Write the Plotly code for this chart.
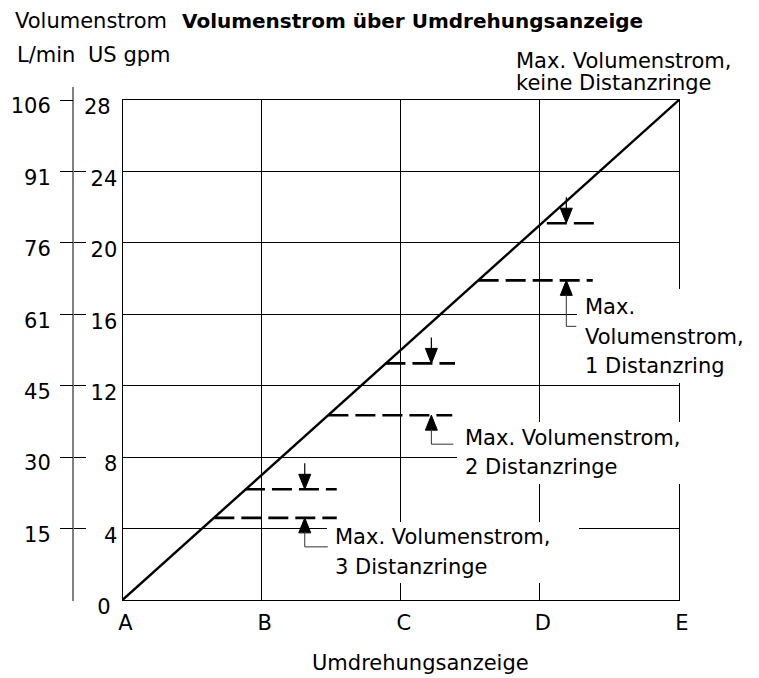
import plotly.graph_objects as go

# ---------------- data ----------------
x_vals = [0, 1, 2, 3, 4]
x_labels = ["A", "B", "C", "D", "E"]

gpm_ticks = [0, 4, 8, 12, 16, 20, 24, 28]
gpm_labels = ["0\u00a0", "4", "8", "12", "16", "20", "24", "28\u00a0"]

lmin_at_gpm = [4, 8, 12, 16, 20, 24, 28]
lmin_labels = ["15", "30", "45", "61", "76", "91", "106"]
GPM_TO_LMIN = 3.785411784

# max. flow, no spacer rings (solid diagonal)
max_flow_x = [0, 4]
max_flow_gpm = [0, 28]

# reduced max. flow levels with spacer rings (dashed segments)
spacer_gpm = [21.1, 17.9, 13.25, 10.35, 6.2, 4.6]
spacer_x_start = [3.05, 2.56, 1.89, 1.48, 0.88, 0.66]
spacer_x_end = [3.43, 3.38, 2.39, 2.37, 1.54, 1.54]

# arrows (x position, level of down arrow, level of up arrow)
arrow_x = [3.19, 2.22, 1.31]
arrow_down_gpm = [21.1, 13.25, 6.2]
arrow_up_gpm = [17.9, 10.35, 4.6]

title_left = "Volumenstrom"
title_main = "Volumenstrom über Umdrehungsanzeige"
unit_lmin = "L/min"
unit_gpm = "US gpm"
x_title = "Umdrehungsanzeige"
label0 = ["Max. Volumenstrom,", "keine Distanzringe"]
label1 = ["Max.", "Volumenstrom,", "1 Distanzring"]
label2 = ["Max. Volumenstrom,", "2 Distanzringe"]
label3 = ["Max. Volumenstrom,", "3 Distanzringe"]

# ---------------- layout geometry ----------------
W, H = 759, 678
ML, MR, MT, MB = 40, 80, 80, 70
PW = W - ML - MR
PH = H - MT - MB
FONT = "DejaVu Sans"
FS = 21


def px(x):
    return (x - ML) / PW


def py(y):
    return (H - MB - y) / PH


fig = go.Figure()

# solid diagonal
fig.add_trace(go.Scatter(x=max_flow_x, y=max_flow_gpm, mode="lines",
                         line=dict(color="black", width=2.4),
                         hoverinfo="skip", showlegend=False))

# dashed spacer levels
for g, xs, xe in zip(spacer_gpm, spacer_x_start, spacer_x_end):
    fig.add_trace(go.Scatter(x=[xs, xe], y=[g, g], mode="lines",
                             line=dict(color="black", width=2.6, dash="20px,7px"),
                             hoverinfo="skip", showlegend=False))

# dummy traces so the L/min axes are drawn
for ax in ["y2", "y3"]:
    fig.add_trace(go.Scatter(x=[None], y=[None], yaxis=ax, mode="markers",
                             hoverinfo="skip", showlegend=False))

shapes = []
# white masks behind label texts
for (x0, y0, x1, y1) in [(577, 289, 705, 383), (457, 422, 705, 484), (327, 522, 579, 583)]:
    shapes.append(dict(type="rect", xref="paper", yref="paper",
                       x0=px(x0), x1=px(x1), y0=py(y0), y1=py(y1),
                       fillcolor="white", line=dict(width=0), layer="above"))

# L/min axis line
shapes.append(dict(type="line", xref="paper", yref="paper",
                   x0=px(73), x1=px(73), y0=py(87), y1=py(601),
                   line=dict(color="black", width=1), layer="above"))

# arrows
leader = [(46, 10), (29, 22), (29, 23)]
for xa, gd, gu, (ld, lr) in zip(arrow_x, arrow_down_gpm, arrow_up_gpm, leader):
    common = dict(type="path", xref="x", yref="y", xsizemode="pixel", ysizemode="pixel",
                  xanchor=xa, layer="above")
    # down arrow head + shaft
    shapes.append(dict(common, yanchor=gd, path="M0,0 L-6,15 L6,15 Z",
                       fillcolor="black", line=dict(color="black", width=1)))
    shapes.append(dict(common, yanchor=gd, path="M0,14 L0,26",
                       line=dict(color="black", width=1.2)))
    # up arrow head + leader
    shapes.append(dict(common, yanchor=gu, path="M0,0 L-6,-15 L6,-15 Z",
                       fillcolor="black", line=dict(color="black", width=1)))
    shapes.append(dict(common, yanchor=gu, path=f"M0,-14 L0,-{ld} L{lr},-{ld}",
                       line=dict(color="#333333", width=1)))

annotations = []


def text(s, x, y, bold=False, anchor="left", size=FS):
    annotations.append(dict(x=px(x), y=py(y), xref="paper", yref="paper",
                            text=f"<b>{s}</b>" if bold else s, showarrow=False,
                            xanchor=anchor, yanchor="middle",
                            font=dict(family=FONT, size=size, color="black")))


text(title_left, 13, 21)
text(title_main, 180, 21, bold=True, size=20)
text(unit_lmin, 15, 55)
text(unit_gpm, 86, 55)
text(x_title, 421, 663, anchor="center")
for s, y in zip(label0, [60.7, 83.3]):
    text(s, 514, y)
for s, y in zip(label1, [307, 337, 366]):
    text(s, 583, y)
for s, y in zip(label2, [438.3, 466.7]):
    text(s, 463, y)
for s, y in zip(label3, [537, 566.7]):
    text(s, 333, y)

tickfont = dict(family=FONT, size=FS, color="black")
lmin_vals = [g * GPM_TO_LMIN for g in lmin_at_gpm]
lmin_range = [0, 28 * GPM_TO_LMIN]

fig.update_layout(
    width=W, height=H,
    margin=dict(l=ML, r=MR, t=MT, b=MB, autoexpand=False),
    paper_bgcolor="white", plot_bgcolor="rgba(0,0,0,0)",
    showlegend=False,
    xaxis=dict(domain=[px(122.5), px(679)], range=[0, 4], tickvals=x_vals,
               ticktext=x_labels, ticks="", showgrid=True, gridcolor="black",
               gridwidth=1, zeroline=False, showline=True, linecolor="black",
               linewidth=1, mirror=True, tickfont=tickfont, ticklabelshift=3,
               ticklabelstandoff=4, automargin=False, fixedrange=True),
    yaxis=dict(domain=[py(600), py(100)], range=[0, 28], tickvals=gpm_ticks,
               ticktext=gpm_labels, ticks="", showgrid=True, gridcolor="black",
               gridwidth=1, zeroline=False, showline=True, linecolor="black",
               linewidth=1, mirror=True, tickfont=tickfont, ticklabelshift=7,
               automargin=False, fixedrange=True),
    yaxis2=dict(overlaying="y", anchor="free", position=px(73), side="left",
                range=lmin_range, tickvals=lmin_vals, ticktext=lmin_labels,
                ticks="outside", ticklen=13, tickcolor="black", tickwidth=1,
                showline=False, showgrid=False, zeroline=False, tickfont=tickfont,
                ticklabelshift=6, ticklabelstandoff=5, automargin=False,
                fixedrange=True),
    yaxis3=dict(overlaying="y", anchor="free", position=px(73), side="left",
                range=lmin_range, tickvals=lmin_vals, ticks="inside", ticklen=12,
                tickcolor="black", tickwidth=1, showticklabels=False,
                showline=False, showgrid=False, zeroline=False, automargin=False,
                fixedrange=True),
    shapes=shapes,
    annotations=annotations,
)

fig.write_html("out.html", config={"displayModeBar": False, "staticPlot": True},
               post_script="document.body.style.margin='0px';")
